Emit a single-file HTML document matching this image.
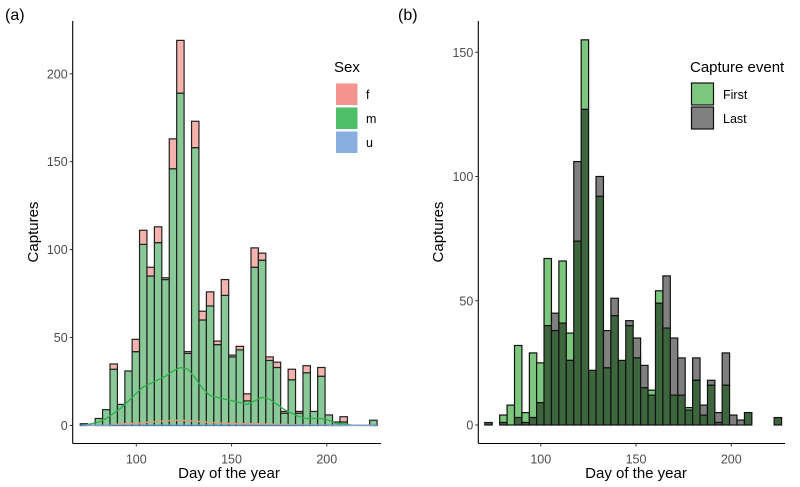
<!DOCTYPE html>
<html><head><meta charset="utf-8">
<style>
body{margin:0;background:#fff;}
svg{display:block;font-family:"Liberation Sans",Arial,sans-serif;}
</style></head>
<body>
<svg id="chart" width="800" height="487" viewBox="0 0 800 487"></svg>
<script>
// ---- shared bins (left edge day of each 40 histogram bins) ----
const binStart = [70.6,74.5,78.4,82.3,86.2,90.1,94.0,97.8,101.7,105.6,109.5,113.4,117.3,121.2,125.1,129.0,132.9,136.8,140.7,144.6,148.5,152.4,156.3,160.2,164.1,168.0,171.9,175.8,179.7,183.6,187.5,191.3,195.2,199.1,203.0,206.9,210.8,214.7,218.6,222.5];
const binWidth = 3.89;
// ---- panel (a): totals and male counts ----
const totalA = [1,0,4,9,35,12,31,49,111,90,113,84,163,219,42,173,65,76,48,83,40,45,18,101,98,39,36,8,32,8,34,8,33,6,2,5,0,0,0,3];
const maleA  = [1,0,4,9,32,12,31,42,103,85,104,83,146,189,41,158,60,68,46,74,39,43,14,90,94,37,33,7,26,7,30,8,28,6,2,2,0,0,0,3];
const densM  = [0,1,2,4,7,10,14,18,22,24,26,28,31,33,32,27,21,17,16,15,14,13,12,14,16,15,12,9,7,5,4,4,4,3,1,1,0.3,0,0,0];
const densF  = [0,0,0,0,0.5,1,1,1.3,1.6,2,2.3,2.6,2.9,3,2.8,2.5,2.1,1.8,1.5,1.3,1.2,1.1,1,1,0.9,0.8,0.7,0.6,0.5,0.4,0.3,0.3,0.2,0.2,0.1,0,0,0,0,0];
const yTicksA = [0,50,100,150,200];
// ---- panel (b): first and last capture counts ----
const firstB = [1,0,4,8,32,5,29,25,67,38,66,37,74,155,22,92,23,44,26,40,27,15,14,54,39,12,12,7,18,4,16,1,16,0,0,5,0,0,0,3];
const lastB  = [1,0,1,0,3,1,3,9,40,45,41,26,106,127,22,100,38,51,26,42,35,24,12,49,60,35,27,6,27,8,18,5,29,4,2,5,0,0,0,3];
const yTicksB = [0,50,100,150];
const xTicks = [100,150,200];

const svg = document.getElementById('chart');
const NS = 'http://www.w3.org/2000/svg';
function mk(tag, attrs, parent){const e=document.createElementNS(NS,tag);for(const k in attrs)e.setAttribute(k,attrs[k]);(parent||svg).appendChild(e);return e;}
function txt(s, attrs, parent){const e=mk('text',attrs,parent);e.textContent=s;return e;}

// scales
const xA = d => 136.3 + (d-100)*1.905;
const xB = d => 540.8 + (d-100)*1.905;
const yA = v => 425.5 - v*1.7585;
const yB = v => 425.0 - v*2.485;

// ===== Panel A =====
const gA = mk('g',{});


for(let i=0;i<binStart.length;i++){
  const x0 = xA(binStart[i]), w = xA(binStart[i]+binWidth)-x0;
  if(totalA[i]<=0) continue;
  const m = mk('rect',{x:x0,y:yA(maleA[i]),width:w,height:yA(0)-yA(maleA[i]),fill:'#88c997',stroke:'#222',"stroke-width":1.2},gA);
  
  
  if(totalA[i]>maleA[i]){
    const f = mk('rect',{x:x0,y:yA(totalA[i]),width:w,height:yA(maleA[i])-yA(totalA[i]),fill:'#f5b3ae',stroke:'#222',"stroke-width":1.2},gA);
    
    
  }
}
function curve(arr, scaleX, scaleY, color, name, parent){
  let d='';
  arr.forEach((v,i)=>{const x=scaleX(binStart[i]+binWidth/2);d+=(i?'L':'M')+x.toFixed(1)+','+scaleY(v).toFixed(1);});
  const p=mk('path',{d:d,fill:'none',stroke:color,"stroke-width":1.3},parent);
  
  
}
curve(densM,xA,yA,'#2fae4c','density-male',gA);
curve(densF,xA,yA,'#e39a7f','density-female',gA);
const bl = mk('line',{x1:xA(binStart[0]),x2:xA(binStart[39]+binWidth),y1:yA(0.2),y2:yA(0.2),stroke:'#6aa0d8',"stroke-width":1.3},gA);



// axes A
function axes(xl, yTop, yBot, xRight, ticksY, sy, sx, parent, prefix){
  const ya=mk('line',{x1:xl,x2:xl,y1:yTop,y2:yBot,stroke:'#000',"stroke-width":1.1},parent);
  
  
  const xa=mk('line',{x1:xl,x2:xRight,y1:yBot,y2:yBot,stroke:'#000',"stroke-width":1.1},parent);
  
  
  ticksY.forEach(t=>{
    mk('line',{x1:xl-3,x2:xl,y1:sy(t),y2:sy(t),stroke:'#333'},parent);
    const l=txt(String(t),{x:xl-5,y:sy(t)+4.5,"text-anchor":'end',"font-size":12.5,fill:'#4d4d4d'},parent);
    
    
  });
  xTicks.forEach(t=>{
    mk('line',{x1:sx(t),x2:sx(t),y1:yBot,y2:yBot+3,stroke:'#333'},parent);
    const l=txt(String(t),{x:sx(t),y:yBot+20,"text-anchor":'middle',"font-size":12.5,fill:'#4d4d4d'},parent);
    
    
  });
}
axes(72.7,21,443.5,381,yTicksA,yA,xA,gA,'a');
const xtA=txt('Day of the year',{x:229,y:478,"text-anchor":'middle',"font-size":15,fill:'#000'},gA);


const ytA=txt('Captures',{x:0,y:0,transform:'translate(38,232) rotate(-90)',"text-anchor":'middle',"font-size":15,fill:'#000'},gA);


const tagA=txt('(a)',{x:5,y:20,"font-size":16,fill:'#000'},gA);



// legend A
const legA=mk('g',{},gA);


txt('Sex',{x:334,y:72,"font-size":15,fill:'#000'},legA);
[['f','#f4958d','#ef8a82',83],['m','#4fbe69','#3fb55c',107],['u','#8aaee0','#7fa3d8',131]].forEach(e=>{
  const r=mk('rect',{x:335.5,y:e[3],width:22.5,height:22.5,fill:e[1],stroke:'#fff',"stroke-width":1},legA);
  
  
  const t=txt(e[0],{x:366,y:e[3]+16,"font-size":12.5,fill:'#000'},legA);
  
  
});

// ===== Panel B =====
const gB = mk('g',{});


for(let i=0;i<binStart.length;i++){
  const x0=xB(binStart[i]), w=xB(binStart[i]+binWidth)-x0;
  const lo=Math.min(firstB[i],lastB[i]), hi=Math.max(firstB[i],lastB[i]);
  if(hi<=0) continue;
  if(hi>lo){
    const top=mk('rect',{x:x0,y:yB(hi),width:w,height:yB(lo)-yB(hi),fill:firstB[i]>lastB[i]?'#7dc67d':'#808080',stroke:'#111',"stroke-width":1.2},gB);
    
    
  }
  if(lo>0){
    const ov=mk('rect',{x:x0,y:yB(lo),width:w,height:yB(0)-yB(lo),fill:'#3e663e',stroke:'#111',"stroke-width":1.2},gB);
    
    
  }
}
axes(478.3,21,443.5,785,yTicksB,yB,xB,gB,'b');
const xtB=txt('Day of the year',{x:636,y:478,"text-anchor":'middle',"font-size":15,fill:'#000'},gB);


const ytB=txt('Captures',{x:0,y:0,transform:'translate(443,232) rotate(-90)',"text-anchor":'middle',"font-size":15,fill:'#000'},gB);


const tagB=txt('(b)',{x:398,y:20,"font-size":16,fill:'#000'},gB);



const legB=mk('g',{},gB);


txt('Capture event',{x:690,y:72,"font-size":15,fill:'#000'},legB);
[['First','#7dc67d',83],['Last','#808080',107]].forEach(e=>{
  const r=mk('rect',{x:691.5,y:e[2],width:22,height:22,fill:e[1],stroke:'#111',"stroke-width":1.2},legB);
  
  
  const t=txt(e[0],{x:723,y:e[2]+16,"font-size":12.5,fill:'#000'},legB);
  
  
});
</script>
</body></html>
